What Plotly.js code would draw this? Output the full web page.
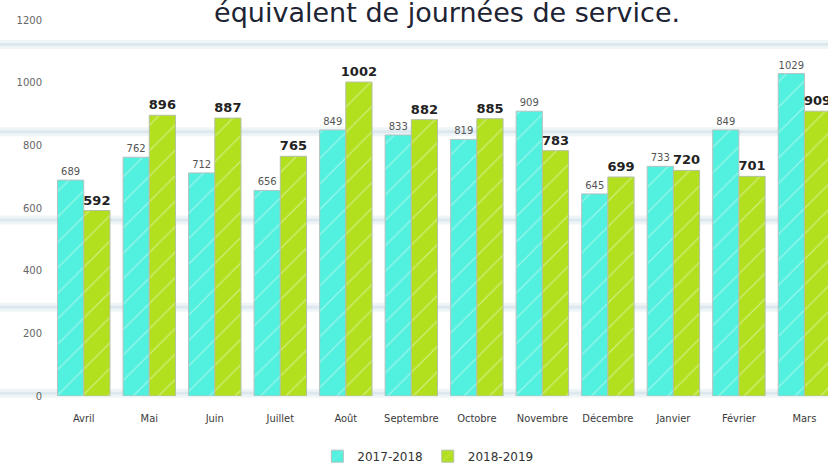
<!DOCTYPE html>
<html>
<head>
<meta charset="utf-8">
<script src="https://cdn.plot.ly/plotly-3.0.1.min.js"></script>
<style>html,body{margin:0;padding:0;background:#fff;overflow:hidden}#chart{width:828px;height:463px}</style>
</head>
<body>
<div id="chart"></div>
<script>
const months = ["Avril","Mai","Juin","Juillet","Août","Septembre","Octobre","Novembre","Décembre","Janvier","Février","Mars"];
const series2017 = [689, 762, 712, 656, 849, 833, 819, 909, 645, 733, 849, 1029];
const series2018 = [592, 896, 887, 765, 1002, 882, 885, 783, 699, 720, 701, 909];
const seriesNames = ["2017-2018", "2018-2019"];
const yTicks = [0, 200, 400, 600, 800, 1000, 1200];

const streakLevels = [0.007, 0.236, 0.468, 0.703, 0.935];
const shapes = [];
streakLevels.forEach(v => {
  shapes.push({type: 'line', xref: 'paper', yref: 'paper', x0: -0.07, x1: 1.0, y0: v, y1: v,
    line: {color: 'rgba(210,225,232,0.35)', width: 9}, layer: 'below'});
  shapes.push({type: 'line', xref: 'paper', yref: 'paper', x0: -0.07, x1: 1.0, y0: v, y1: v,
    line: {color: 'rgba(200,218,226,0.45)', width: 3}, layer: 'below'});
});

const cyan = '#52F0DE', green = '#B3E01E';
const traces = [
  {
    type: 'bar', name: seriesNames[0], x: months, y: series2017,
    marker: {color: cyan, line: {color: '#b4c2c2', width: 1},
      pattern: {shape: '/', bgcolor: cyan, fgcolor: '#ffffff', fgopacity: 0.4, size: 18, solidity: 0.07}},
    text: series2017.map(String), textposition: 'outside', cliponaxis: true, constraintext: 'none',
    textfont: {family: 'DejaVu Sans', size: 10, color: '#555'}
  },
  {
    type: 'bar', name: seriesNames[1], x: months, y: series2018,
    marker: {color: green, line: {color: '#b4c0a4', width: 1},
      pattern: {shape: '/', bgcolor: green, fgcolor: '#ffffff', fgopacity: 0.4, size: 18, solidity: 0.07}},
    text: series2018.map(String), textposition: 'outside', cliponaxis: true, constraintext: 'none',
    textfont: {family: 'DejaVu Sans', size: 13, color: '#222', weight: 'bold'}
  }
];

const layout = {
  width: 828, height: 463,
  margin: {l: 51, r: 0, t: 20, b: 67, autoexpand: false},
  paper_bgcolor: '#ffffff', plot_bgcolor: 'rgba(0,0,0,0)',
  title: {text: 'équivalent de journées de service.', xref: 'container', x: 0.54, xanchor: 'center',
    yref: 'container', y: 0.972, yanchor: 'middle',
    font: {family: 'DejaVu Sans', size: 27, color: '#1e2433'}},
  barmode: 'group', bargap: 0.2, bargroupgap: 0,
  xaxis: {range: [-0.5, 11.36], showgrid: false, zeroline: false, showline: false,
    ticks: '', ticklabelstandoff: 14,
    tickfont: {family: 'DejaVu Sans Condensed, DejaVu Sans', size: 11, color: '#3a3a3a'}},
  yaxis: {range: [0, 1200], tickvals: yTicks, ticktext: yTicks.map(String), showgrid: false,
    zeroline: false, showline: false, ticks: '', ticklabelstandoff: 8,
    tickfont: {family: 'DejaVu Sans', size: 10, color: '#666'}},
  legend: {orientation: 'h', x: 0.485, xanchor: 'center', y: -0.16, yanchor: 'middle',
    font: {family: 'DejaVu Sans', size: 12, color: '#333'}},
  shapes: shapes,
  showlegend: true
};

Plotly.newPlot('chart', traces, layout, {displayModeBar: false, staticPlot: true});
</script>
</body>
</html>
